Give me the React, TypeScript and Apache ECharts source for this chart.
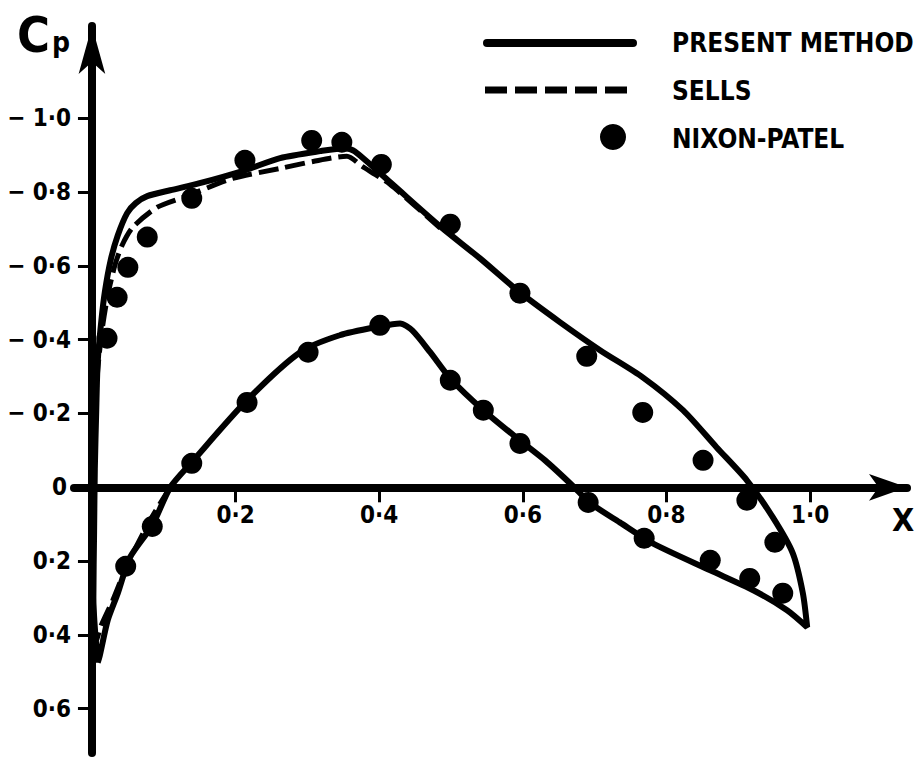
import React, { useEffect, useRef } from 'react';
import * as echarts from 'echarts';

// ---- data (x/c, Cp) ----
const xTicks = [0.2, 0.4, 0.6, 0.8, 1.0];
const yTicks = [-1.0, -0.8, -0.6, -0.4, -0.2, 0, 0.2, 0.4, 0.6];

const presentUpper = [
  [0.008, 0.475], [0.002, 0.3], [0.003, 0.12], [0.004, -0.05], [0.006, -0.21],
  [0.008, -0.34], [0.013, -0.45], [0.018, -0.53], [0.026, -0.615], [0.036, -0.683],
  [0.049, -0.743], [0.061, -0.77], [0.077, -0.789], [0.109, -0.805], [0.15, -0.824],
  [0.213, -0.859], [0.262, -0.892], [0.318, -0.911], [0.352, -0.919], [0.366, -0.91],
  [0.415, -0.827], [0.485, -0.707], [0.54, -0.621], [0.596, -0.528], [0.652, -0.447],
  [0.708, -0.371], [0.767, -0.298], [0.823, -0.209], [0.87, -0.108], [0.912, -0.019],
  [0.948, 0.081], [0.976, 0.179], [0.99, 0.287], [0.996, 0.379],
];
const presentLower = [
  [0.996, 0.379], [0.968, 0.333], [0.921, 0.279], [0.861, 0.225], [0.781, 0.152],
  [0.735, 0.095], [0.694, 0.043], [0.669, -0.005], [0.631, -0.073], [0.596, -0.127],
  [0.545, -0.209], [0.499, -0.295], [0.471, -0.366], [0.446, -0.425], [0.429, -0.444],
  [0.401, -0.436], [0.345, -0.412], [0.29, -0.366], [0.216, -0.236], [0.139, -0.068],
  [0.109, 0.0], [0.084, 0.103], [0.053, 0.19], [0.036, 0.287], [0.022, 0.36],
  [0.011, 0.455], [0.008, 0.475],
];
const sellsLower = [
  [0.109, 0.0], [0.081, 0.089], [0.049, 0.211], [0.029, 0.306], [0.013, 0.374],
  [0.006, 0.415], [0.002, 0.3], [0.002, 0.0],
];
const sellsUpper = [
  [0.004, -0.182], [0.008, -0.317], [0.014, -0.425], [0.022, -0.52], [0.032, -0.602],
  [0.042, -0.656], [0.057, -0.705], [0.091, -0.759], [0.132, -0.789], [0.196, -0.837],
  [0.262, -0.864], [0.308, -0.883], [0.355, -0.897], [0.376, -0.87], [0.415, -0.821],
  [0.485, -0.702],
];
const nixonUpper = [
  [0.021, -0.404], [0.035, -0.515], [0.05, -0.596], [0.077, -0.678], [0.139, -0.783],
  [0.213, -0.886], [0.306, -0.94], [0.348, -0.935], [0.403, -0.875], [0.499, -0.713],
  [0.596, -0.526], [0.689, -0.355], [0.767, -0.203], [0.851, -0.073], [0.912, 0.035],
  [0.951, 0.149],
];
const nixonLower = [
  [0.047, 0.214], [0.084, 0.106], [0.139, -0.065], [0.216, -0.23], [0.301, -0.366],
  [0.401, -0.439], [0.499, -0.29], [0.545, -0.209], [0.596, -0.119], [0.691, 0.041],
  [0.769, 0.138], [0.861, 0.198], [0.916, 0.247], [0.962, 0.287],
];
const legendNames = ['PRESENT METHOD', 'SELLS', 'NIXON-PATEL'];

const FONT = '"DejaVu Sans Condensed", "DejaVu Sans", sans-serif';
const INK = '#000';

const Y_MIN = -1.25;
const Y_MAX = 0.72;
const GRID_TOP = 26;
const GRID_H = 727;

function fmtNum(v: number): string {
  return Math.abs(v).toFixed(1).replace('.', '·');
}
function fmtY(v: number): string {
  if (Math.abs(v) < 1e-9) return '{z|0}';
  return v < 0 ? '− ' + fmtNum(v) : fmtNum(v);
}

export default function App() {
  const ref = useRef<HTMLDivElement>(null);
  useEffect(() => {
    if (!ref.current) return;
    const chart = echarts.init(ref.current, undefined, { renderer: 'svg' });
    const labelStyle = { fontFamily: FONT, fontWeight: 'bold', fontSize: 24, color: INK };
    // distance from the grid bottom up to Cp = 0
    const zeroOffset = -((Y_MAX - 0) / (Y_MAX - Y_MIN)) * GRID_H;
    const option: any = {
      animation: false,
      backgroundColor: '#fff',
      grid: { left: 74, top: GRID_TOP, width: 833, height: GRID_H, containLabel: false, outerBoundsMode: 'none' },
      xAxis: {
        type: 'value', min: -0.025, max: 1.135, position: 'bottom', offset: zeroOffset,
        axisLine: { onZero: false, symbol: ['none', 'arrow'], symbolSize: [20, 38], lineStyle: { color: INK, width: 8 } },
        axisTick: { show: true, customValues: xTicks, length: 15, lineStyle: { color: INK, width: 3 } },
        axisLabel: { show: true, hideOverlap: false, customValues: xTicks, formatter: (v: number) => fmtNum(v), margin: 16, ...labelStyle },
        splitLine: { show: false },
      },
      yAxis: {
        type: 'value', inverse: true, min: Y_MIN, max: Y_MAX,
        axisLine: { onZero: true, symbol: ['none', 'arrow'], symbolSize: [20, 48], lineStyle: { color: INK, width: 8 } },
        axisTick: { show: true, customValues: yTicks, length: 14, lineStyle: { color: INK, width: 3 } },
        axisLabel: {
          customValues: yTicks, formatter: (v: number) => fmtY(v), margin: 3, ...labelStyle,
          rich: { z: { ...labelStyle, padding: [0, 4, 0, 0] } },
        },
        splitLine: { show: false },
      },
      series: [
        {
          name: legendNames[1], type: 'line', data: [...sellsLower, ...sellsUpper], showSymbol: false,
          smooth: 0.25, lineStyle: { color: INK, width: 5, type: [20, 7] }, z: 2,
        },
        {
          name: legendNames[0], type: 'line', data: [...presentUpper, ...presentLower], showSymbol: false,
          smooth: 0.25, lineStyle: { color: INK, width: 6 }, z: 3,
        },
        {
          name: legendNames[2], type: 'scatter', data: [...nixonUpper, ...nixonLower], symbol: 'circle',
          symbolSize: 21, itemStyle: { color: INK, opacity: 1 }, z: 4,
        },
      ],
      graphic: [
        { type: 'text', left: 17, top: 10, style: { text: 'C', fontFamily: FONT, fontWeight: 'bold', fontSize: 50, fill: INK } },
        { type: 'text', left: 52, top: 28, style: { text: 'p', fontFamily: FONT, fontWeight: 'bold', fontSize: 28, fill: INK } },
        { type: 'text', left: 892, top: 504, style: { text: 'X', fontFamily: FONT, fontWeight: 'bold', fontSize: 32, fill: INK } },
        { type: 'line', shape: { x1: 487, y1: 43, x2: 633, y2: 43 }, style: { stroke: INK, lineWidth: 8, lineCap: 'round' } },
        { type: 'line', shape: { x1: 485, y1: 90, x2: 635, y2: 90 }, style: { stroke: INK, lineWidth: 7, lineDash: [22, 8] } },
        { type: 'circle', shape: { cx: 613, cy: 137, r: 13 }, style: { fill: INK } },
        { type: 'text', x: 672, y: 43, style: { text: legendNames[0], fontFamily: FONT, fontWeight: 'bold', fontSize: 26, fill: INK, verticalAlign: 'middle' } },
        { type: 'text', x: 672, y: 91, style: { text: legendNames[1], fontFamily: FONT, fontWeight: 'bold', fontSize: 26, fill: INK, verticalAlign: 'middle' } },
        { type: 'text', x: 672, y: 139, style: { text: legendNames[2], fontFamily: FONT, fontWeight: 'bold', fontSize: 26, fill: INK, verticalAlign: 'middle' } },
      ],
    };
    chart.setOption(option);
    return () => chart.dispose();
  }, []);
  return <div ref={ref} style={{ position: 'absolute', left: 0, top: 0, width: 924, height: 758, background: '#fff' }} />;
}
